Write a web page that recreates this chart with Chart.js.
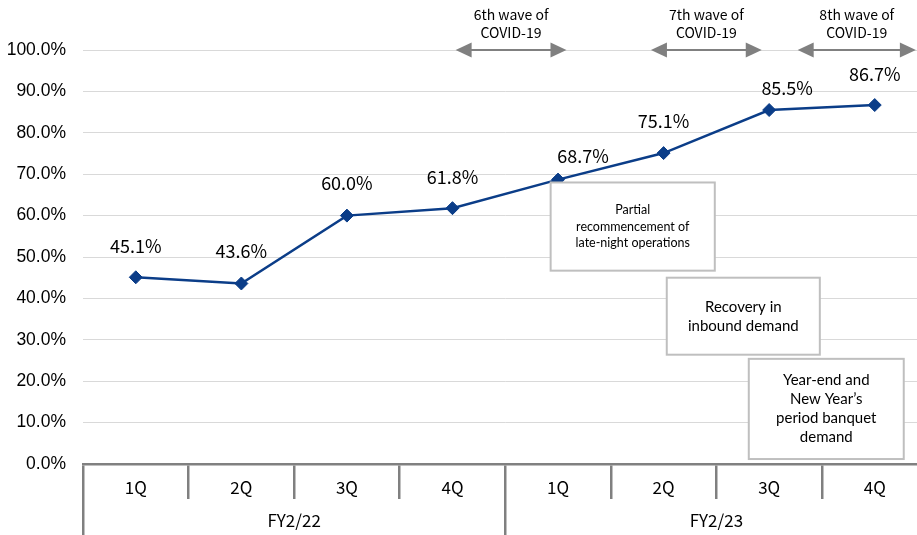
<!DOCTYPE html>
<html>
<head>
<meta charset="utf-8">
<script src="https://cdn.jsdelivr.net/npm/chart.js@4/dist/chart.umd.min.js"></script>
<style>
  html, body { margin: 0; padding: 0; background: #fff; overflow: hidden; }
  #wrap { width: 917px; height: 535px; overflow: hidden; position: relative; }
  canvas { display: block; }
</style>
</head>
<body>
<div id="wrap"><canvas id="c" width="935" height="535"></canvas></div>
<script>
// Quarterly occupancy rate, FY2/22 – FY2/23
const quarters = ['1Q', '2Q', '3Q', '4Q', '1Q', '2Q', '3Q', '4Q'];
const fiscalYears = ['FY2/22', 'FY2/23'];
const rates = [45.1, 43.6, 60.0, 61.8, 68.7, 75.1, 85.5, 86.7];
const yTicks = [0, 10, 20, 30, 40, 50, 60, 70, 80, 90, 100];

// COVID-19 wave periods, in category units along the x axis
const waveLabels = [['6th wave of', 'COVID-19'], ['7th wave of', 'COVID-19'], ['8th wave of', 'COVID-19']];
const waveStart = [3.03, 4.88, 6.27];
const waveEnd = [4.08, 5.93, 7.39];

// Callout notes
const noteTexts = [
  ['Partial', 'recommencement of', 'late-night operations'],
  ['Recovery in', 'inbound demand'],
  ['Year-end and', 'New Year\u2019s', 'period banquet', 'demand']
];

const jpFont = "'Noto Sans CJK JP', 'Noto Sans', sans-serif";
const navy = '#0b3d88';
const axisGray = '#808080';

const noteLayout = [
  { x0: 3.93, x1: 5.485, yTop: 68.0, yBot: 46.7, size: 12.5, lh: 16.5 },
  { x0: 5.03, x1: 6.48, yTop: 45.0, yBot: 26.4, size: 15, lh: 19 },
  { x0: 5.807, x1: 7.275, yTop: 25.4, yBot: 1.2, size: 15, lh: 19 }
];
const labelDx = [0, 0, 0, 0, 25, 0, 18, 0];
const labelDy = [31, 32, 32, 31, 23, 32, 22, 31];

const notesPlugin = {
  id: 'notes',
  afterDatasetsDraw(chart) {
    const ctx = chart.ctx;
    const xs = chart.scales.x, ys = chart.scales.y;
    // callout boxes
    noteLayout.forEach((b, i) => {
      const l = xs.getPixelForValue(b.x0), r = xs.getPixelForValue(b.x1);
      const t = ys.getPixelForValue(b.yTop), btm = ys.getPixelForValue(b.yBot);
      ctx.save();
      ctx.fillStyle = '#fff';
      ctx.fillRect(l, t, r - l, btm - t);
      ctx.strokeStyle = '#bfbfbf';
      ctx.lineWidth = 2;
      ctx.strokeRect(l, t, r - l, btm - t);
      ctx.fillStyle = '#000';
      ctx.font = b.size + "px Lato, 'Open Sans', sans-serif";
      ctx.textAlign = 'center';
      ctx.textBaseline = 'middle';
      const lines = noteTexts[i];
      const cx = (l + r) / 2, cy = (t + btm) / 2;
      lines.forEach((s, k) => {
        ctx.fillText(s, cx, cy + (k - (lines.length - 1) / 2) * b.lh);
      });
      ctx.restore();
    });
    // value labels
    const meta = chart.getDatasetMeta(0);
    ctx.save();
    ctx.fillStyle = '#000';
    ctx.font = "18px " + jpFont;
    ctx.textAlign = 'center';
    ctx.textBaseline = 'middle';
    meta.data.forEach((pt, i) => {
      ctx.fillText(rates[i].toFixed(1) + '%', pt.x + labelDx[i], pt.y - labelDy[i]);
    });
    ctx.restore();
    // wave arrows
    const ay = ys.getPixelForValue(100);
    waveLabels.forEach((lab, i) => {
      const a = xs.getPixelForValue(waveStart[i]), b = xs.getPixelForValue(waveEnd[i]);
      const head = 16, half = 7.5;
      ctx.save();
      ctx.strokeStyle = axisGray;
      ctx.fillStyle = axisGray;
      ctx.lineWidth = 2;
      ctx.beginPath();
      ctx.moveTo(a + head - 1, ay);
      ctx.lineTo(b - head + 1, ay);
      ctx.stroke();
      ctx.beginPath();
      ctx.moveTo(a, ay); ctx.lineTo(a + head, ay - half); ctx.lineTo(a + head, ay + half); ctx.closePath();
      ctx.fill();
      ctx.beginPath();
      ctx.moveTo(b, ay); ctx.lineTo(b - head, ay - half); ctx.lineTo(b - head, ay + half); ctx.closePath();
      ctx.fill();
      ctx.fillStyle = '#000';
      ctx.font = "14px " + jpFont;
      ctx.textAlign = 'center';
      ctx.textBaseline = 'middle';
      const cx = (a + b) / 2;
      ctx.fillText(lab[0], cx, ay - 35);
      ctx.fillText(lab[1], cx, ay - 17);
      ctx.restore();
    });
  }
};

new Chart(document.getElementById('c'), {
  type: 'line',
  data: {
    labels: quarters,
    datasets: [{
      data: rates,
      borderColor: navy,
      backgroundColor: navy,
      borderWidth: 2.5,
      pointStyle: 'rectRot',
      pointRadius: 6.5,
      pointBorderWidth: 1,
      pointBackgroundColor: navy,
      pointBorderColor: navy,
      tension: 0,
      clip: false
    }]
  },
  options: {
    responsive: false,
    animation: false,
    devicePixelRatio: 1,
    layout: { padding: { top: 50, right: 7, left: 0, bottom: 0 } },
    plugins: { legend: { display: false }, tooltip: { enabled: false } },
    scales: {
      y: {
        min: 0, max: 100,
        afterBuildTicks: s => { s.ticks = yTicks.map(v => ({ value: v })); },
        afterFit: s => { s.width = 83; },
        ticks: {
          padding: 17,
          color: '#000',
          font: { family: "'Liberation Sans', Arial, sans-serif", size: 17.5 },
          callback: v => Number(v).toFixed(1) + '%'
        },
        grid: { color: '#d9d9d9', lineWidth: 1, drawTicks: false },
        border: { display: false }
      },
      x: {
        offset: true,
        afterFit: s => { s.height = 35; },
        grid: { offset: true, drawOnChartArea: false, drawTicks: true, tickLength: 35, color: axisGray, lineWidth: 2.5 },
        border: { display: true, color: axisGray, width: 2.5 },
        ticks: { padding: -22, color: '#000', font: { family: jpFont, size: 17 }, maxRotation: 0 }
      },
      x2: {
        type: 'category',
        position: 'bottom',
        labels: fiscalYears,
        offset: true,
        afterFit: s => { s.height = 36; },
        grid: { offset: true, drawOnChartArea: false, drawTicks: true, tickLength: 36, color: axisGray, lineWidth: 2.5 },
        border: { display: false },
        ticks: { padding: -25, color: '#000', font: { family: jpFont, size: 17 }, maxRotation: 0 }
      }
    }
  },
  plugins: [notesPlugin]
});
</script>
</body>
</html>
